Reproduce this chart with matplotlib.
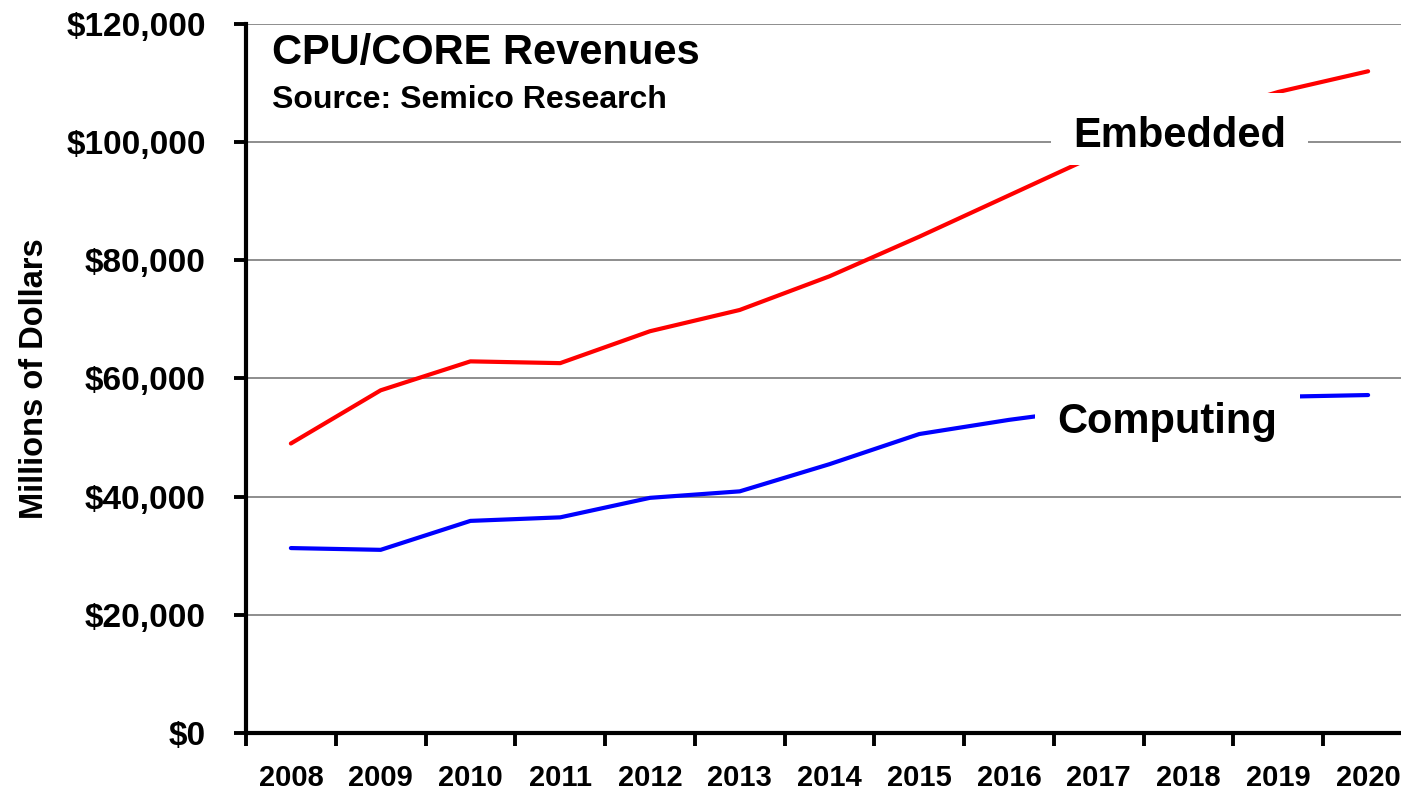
import matplotlib
matplotlib.use("Agg")
import matplotlib.pyplot as plt
from matplotlib.ticker import FuncFormatter, FixedLocator
from matplotlib.patches import Rectangle
import numpy as np

years = ["2008", "2009", "2010", "2011", "2012", "2013", "2014",
         "2015", "2016", "2017", "2018", "2019", "2020"]
embedded = [49000, 58000, 62900, 62600, 68000, 71600, 77300,
            84000, 91000, 98000, 104000, 108500, 112000]
computing = [31300, 31000, 35900, 36500, 39800, 40900, 45500,
             50600, 53000, 55000, 56200, 56900, 57200]
y_ticks = [0, 20000, 40000, 60000, 80000, 100000, 120000]

plt.rcParams['font.family'] = ['Liberation Sans', 'DejaVu Sans']
plt.rcParams['font.weight'] = 'bold'

W, H = 1401, 791
fig = plt.figure(figsize=(W / 100, H / 100), dpi=100)
ax = fig.add_axes([246 / W, (H - 733) / H, 1167 / W, (733 - 24) / H])

x = np.arange(len(years))
ax.plot(x, embedded, color='#ff0000', lw=3.0, solid_capstyle='round',
        solid_joinstyle='round', zorder=3)
ax.plot(x, computing, color='#0000ff', lw=3.0, solid_capstyle='round',
        solid_joinstyle='round', zorder=3)

ax.set_xlim(-0.5, len(years) - 0.5)
ax.set_ylim(0, 120000)
ax.set_yticks(y_ticks)
ax.yaxis.set_major_formatter(FuncFormatter(lambda v, p: "${:,.0f}".format(v)))
ax.grid(axis='y', color='#6f6f6f', lw=1.1, zorder=1)
ax.set_axisbelow(True)

# x: major ticks at category boundaries, labels at centers (minor)
ax.xaxis.set_major_locator(FixedLocator(np.arange(-0.5, len(years), 1.0)))
ax.xaxis.set_major_formatter(FuncFormatter(lambda v, p: ""))
ax.xaxis.set_minor_locator(FixedLocator(x))
ax.set_xticklabels(years, minor=True)
ax.tick_params(axis='x', which='major', direction='out', length=9, width=2.8, color='black')
ax.tick_params(axis='x', which='minor', length=0, pad=22, labelsize=21)
ax.tick_params(axis='y', direction='out', length=9, width=2.8, pad=20, labelsize=24)

for s in ['top', 'right']:
    ax.spines[s].set_visible(False)
ax.spines['left'].set_linewidth(3)
ax.spines['bottom'].set_linewidth(3)
ax.spines['bottom'].set_zorder(4)

ax.set_ylabel("Millions of Dollars", fontsize=23.5, fontweight='bold', labelpad=12)

# white label boxes (figure pixel coordinates)
def pix_rect(x0, y0, x1, y1):
    r = Rectangle((x0 / W, 1 - y1 / H), (x1 - x0) / W, (y1 - y0) / H,
                  transform=fig.transFigure, facecolor='white', edgecolor='none',
                  zorder=4.5, clip_on=False)
    ax.add_patch(r)

pix_rect(1051, 93, 1308, 165)
pix_rect(1035, 384, 1300, 456)

ax.text(9.9, 99200, "Embedded", fontsize=30, fontweight='bold', ha='center',
        va='baseline', zorder=5)
ax.text(9.76, 50800, "Computing", fontsize=30, fontweight='bold', ha='center',
        va='baseline', zorder=5)

fig.text(272 / W, 1 - 64 / H, "CPU/CORE Revenues", fontsize=30, fontweight='bold',
         ha='left', va='baseline')
fig.text(272 / W, 1 - 108 / H, "Source: Semico Research", fontsize=23, fontweight='bold',
         ha='left', va='baseline')

fig.savefig("out.png", dpi=100)
